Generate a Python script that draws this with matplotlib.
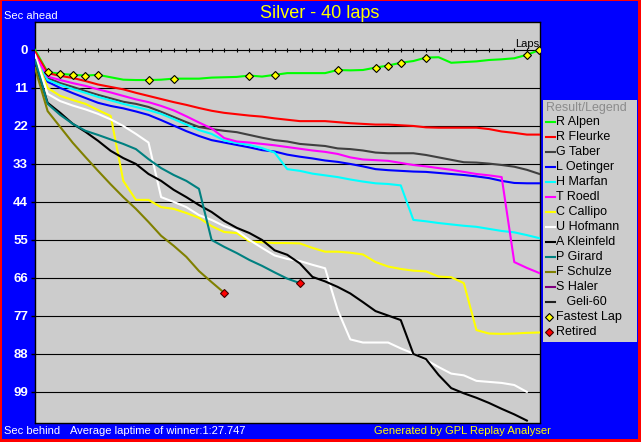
import matplotlib
matplotlib.use('Agg')
import matplotlib.pyplot as plt
from matplotlib.patches import Rectangle

W, H = 641, 442

# seconds behind (positive = behind) per lap
laps = list(range(41))
alpen = [0, 6.4, 6.9, 7.2, 7.4, 7.2, 7.9, 8.6, 8.7, 8.7, 8.6, 8.3, 8.3, 8.3, 8.0, 7.9, 7.8, 7.4, 7.7, 7.2,
         6.7, 6.7, 6.7, 6.7, 5.8, 5.9, 5.8, 5.1, 4.5, 3.7, 3.2, 2.2, 2.1, 3.7, 3.5, 3.3, 2.9, 2.7, 2.4, 1.4, 0]
fleurke = [0.5, 6.7, 7.5, 8.1, 9.0, 10.0, 10.7, 11.4, 12.4, 13.3, 14.2, 15.1, 15.9, 16.8, 17.6, 18.2, 18.6, 19.0,
           19.3, 19.8, 20.2, 20.6, 20.6, 20.6, 20.9, 21.2, 21.4, 21.6, 21.6, 21.8, 22.0, 22.4, 22.5, 22.5, 22.5,
           22.5, 22.9, 23.6, 24.0, 24.5, 24.5]
taber = [2.0, 8.1, 9.6, 10.7, 11.9, 13.0, 14.0, 15.0, 15.6, 16.5, 17.9, 19.4, 20.9, 22.3, 22.9, 23.4, 23.8, 24.6,
         25.4, 26.1, 26.5, 27.2, 27.5, 27.8, 28.5, 28.7, 29.1, 29.7, 29.9, 29.9, 29.9, 30.4, 31.1, 31.8, 32.5,
         32.6, 32.9, 33.3, 33.8, 34.7, 35.9]
oetinger = [2.9, 9.2, 11.0, 12.5, 13.9, 15.3, 16.2, 16.9, 17.8, 18.8, 20.3, 21.9, 23.5, 24.9, 26.1, 26.8, 27.5,
            28.2, 29.0, 29.4, 30.3, 30.9, 31.4, 32.0, 32.4, 33.0, 33.7, 34.5, 34.8, 35.0, 35.2, 35.3, 35.6, 35.9,
            36.2, 36.6, 37.1, 37.9, 38.5, 38.6, 38.6]
marfan = [2.0, 8.7, 10.1, 11.3, 12.4, 13.6, 14.6, 15.6, 16.5, 17.4, 18.5, 20.0, 21.6, 23.2, 24.3, 26.2, 26.9,
          27.5, 28.4, 29.7, 34.5, 35.0, 35.8, 36.3, 36.8, 37.5, 38.1, 38.6, 38.8, 39.2, 49.2, 49.6, 50.1, 50.5,
          50.9, 51.2, 51.8, 52.4, 52.8, 53.6, 54.5]
roedl = [1.4, 7.7, 8.7, 9.6, 10.4, 11.4, 12.3, 13.3, 14.3, 15.1, 16.2, 17.5, 19.2, 21.0, 22.7, 25.5, 26.5, 26.8,
         27.2, 27.6, 28.1, 28.6, 29.1, 29.5, 30.1, 31.1, 31.7, 31.9, 32.1, 32.7, 33.3, 33.7, 34.2, 34.7, 35.3,
         35.9, 36.3, 36.8, 61.4, 63.1, 64.6]
callipo = [1.7, 11.0, 13.3, 14.5, 15.6, 17.4, 19.1, 37.9, 43.4, 43.4, 45.5, 46.0, 47.2, 48.6, 51.0, 52.7, 53.0,
           55.4, 55.7, 55.9, 55.9, 56.0, 57.3, 58.4, 58.4, 58.7, 59.2, 61.4, 62.7, 63.4, 63.9, 64.1, 65.6, 65.8,
           67.5, 81.1, 82.1, 82.2, 82.1, 81.9, 81.8]
hofmann = [1.4, 12.7, 14.8, 16.1, 17.2, 18.5, 20.1, 22.0, 24.3, 26.8, 42.6, 44.0, 45.5, 47.8, 49.2, 51.0, 52.3,
           55.0, 57.3, 59.5, 60.5, 61.1, 62.2, 63.2, 75.3, 83.8, 84.7, 84.7, 84.7, 86.4, 87.9, 89.7, 91.8, 93.7,
           94.2, 95.8, 96.1, 96.4, 97.0, 99.0]
kleinfeld = [3.8, 15.3, 18.2, 21.4, 23.7, 26.3, 29.2, 31.3, 33.0, 35.9, 37.9, 40.5, 42.6, 44.9, 46.9, 49.5, 51.5,
             53.0, 55.0, 58.0, 59.3, 61.8, 65.7, 67.0, 68.6, 70.5, 73.0, 75.6, 76.9, 78.2, 88.0, 89.5, 94.1, 97.9,
             99.4, 100.7, 102.2, 103.9, 105.5, 107.3]
girard = [2.9, 15.6, 18.8, 21.4, 23.4, 24.6, 25.9, 27.2, 28.7, 31.6, 34.2, 36.2, 37.9, 40.2, 55.0, 57.0, 58.8,
          60.8, 62.5, 64.4, 66.2, 67.5]
schulze = [5.2, 17.7, 22.3, 26.9, 31.0, 35.0, 38.9, 42.6, 46.0, 49.8, 53.8, 56.7, 59.9, 64.0, 67.2, 70.3]
haler = []
geli = []

drivers = ['R Alpen', 'R Fleurke', 'G Taber', 'L Oetinger', 'H Marfan', 'T Roedl', 'C Callipo',
           'U Hofmann', 'A Kleinfeld', 'P Girard', 'F Schulze', 'S Haler', '   Geli-60']
colors = ['#00ff00', '#ff0000', '#404040', '#0000ff', '#00ffff', '#ff00ff', '#ffff00',
          '#ffffff', '#000000', '#008080', '#808000', '#800080', '#202020']
series = [alpen, fleurke, taber, oetinger, marfan, roedl, callipo,
          hofmann, kleinfeld, girard, schulze, haler, geli]
retired = ['P Girard', 'F Schulze']
fastest_laps = [1, 2, 3, 4, 5, 9, 11, 17, 19, 24, 27, 28, 29, 31, 39, 40]
yticks = [0, 11, 22, 33, 44, 55, 66, 77, 88, 99]

plt.rcParams['font.family'] = ['Liberation Sans', 'DejaVu Sans']

fig = plt.figure(figsize=(W / 100, H / 100), dpi=100)
fig.patch.set_facecolor('#ff0000')
fig.add_artist(Rectangle((2 / W, 3 / H), 636 / W, 438 / H, transform=fig.transFigure,
                         facecolor='#0000ff', edgecolor='none', zorder=0))

ax = fig.add_axes([35 / W, 1 - 423 / H, 505 / W, 401 / H])
ax.set_facecolor('#cccccc')
ax.set_xlim(0, 40.04)
ax.set_ylim(108, -8.1)
ax.set_xticks([])
ax.set_yticks(yticks)
ax.tick_params(axis='y', direction='out', length=3, width=1, color='black',
               labelcolor='white', labelsize=9.5, pad=2)
for lab in ax.get_yticklabels():
    lab.set_fontweight('bold')
ax.grid(axis='y', color='black', lw=0.8)
ax.set_axisbelow(True)
for s in ax.spines.values():
    s.set_color('black')
    s.set_linewidth(1)

# lap ticks on the zero line
ax.vlines(laps[1:40], -0.6, 0.6, colors='black', lw=0.8, zorder=2)

for name, c, vals in zip(drivers, colors, series):
    if not vals:
        continue
    ax.plot(range(len(vals)), vals, color=c, lw=1.5, zorder=3)
    if name in retired:
        ax.plot(len(vals) - 1, vals[-1], 'D', ms=4, mfc='#ff0000', mec='#400000', mew=0.8, zorder=5)

ax.plot(fastest_laps, [alpen[l] for l in fastest_laps], 'D', ms=4,
        mfc='#ffff00', mec='black', mew=0.8, zorder=5)

# texts around the plot
fig.text(4 / W, 1 - 16 / H, 'Sec ahead', color='white', size=8, va='center')
fig.text(320 / W, 1 - 14 / H, 'Silver - 40 laps', color='#ffff00', size=13, va='center', ha='center')
fig.text(539 / W, 1 - 44 / H, 'Laps', color='black', size=8, va='center', ha='right')
fig.text(4 / W, 1 - 431 / H, 'Sec behind', color='white', size=8, va='center')
fig.text(70 / W, 1 - 431 / H, 'Average laptime of winner:1:27.747', color='white', size=8, va='center')
fig.text(374 / W, 1 - 431 / H, 'Generated by GPL Replay Analyser', color='#ffff00', size=8, va='center')

# legend box
lax = fig.add_axes([543 / W, 1 - 342 / H, 94 / W, 242 / H])
lax.set_facecolor('#cccccc')
lax.set_xlim(0, 94)
lax.set_ylim(242, 0)
lax.set_xticks([])
lax.set_yticks([])
for s in lax.spines.values():
    s.set_visible(False)
lax.text(3, 7.5, 'Result/Legend', color='#8c8c8c', size=9, va='center')
for i, (name, c) in enumerate(zip(drivers, colors)):
    y = 22.3 + 15 * i
    lax.plot([2.7, 12], [y, y], color=c, lw=1.5)
    lax.text(13, y, name, color='black', size=9, va='center')
y = 22.3 + 15 * len(drivers)
lax.plot(6, y, 'D', ms=4, mfc='#ffff00', mec='black', mew=0.8)
lax.text(13, y, 'Fastest Lap', color='black', size=9, va='center')
lax.plot(6, y + 15, 'D', ms=4, mfc='#ff0000', mec='#400000', mew=0.8)
lax.text(13, y + 15, 'Retired', color='black', size=9, va='center')

fig.savefig('out.png', dpi=100, facecolor=fig.get_facecolor())
